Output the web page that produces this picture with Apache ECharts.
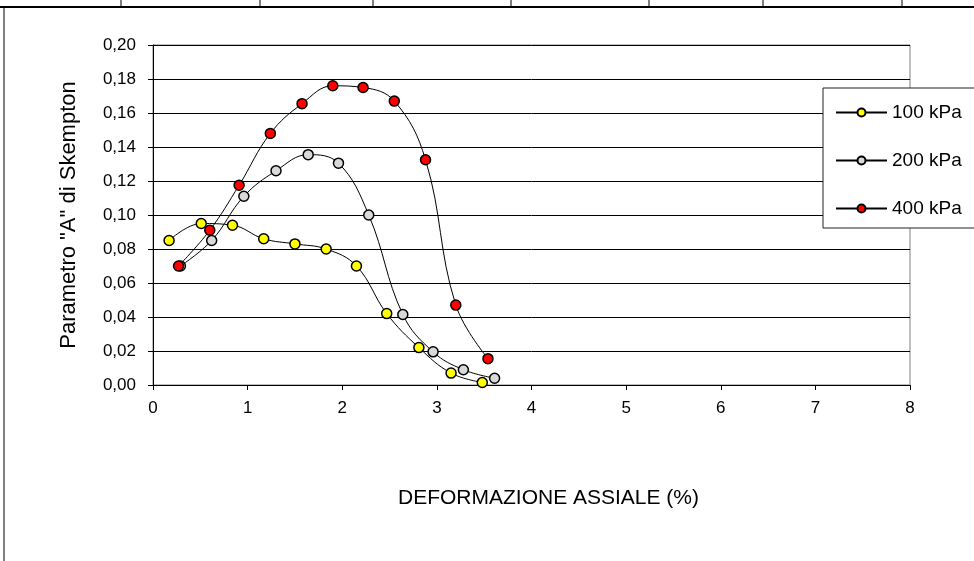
<!DOCTYPE html>
<html>
<head>
<meta charset="utf-8">
<script src="https://cdn.jsdelivr.net/npm/echarts@6/dist/echarts.min.js"></script>
<style>
html,body{margin:0;padding:0;background:#fff;}
#c{width:974px;height:561px;}
</style>
</head>
<body>
<div id="c"></div>
<script>
// Data
const seriesNames = ['100 kPa', '200 kPa', '400 kPa'];
const x100 = [0.17, 0.51, 0.84, 1.17, 1.50, 1.83, 2.15, 2.47, 2.81, 3.15, 3.48];
const y100 = [0.085, 0.095, 0.094, 0.086, 0.083, 0.080, 0.070, 0.042, 0.022, 0.007, 0.0015];
const x200 = [0.29, 0.62, 0.96, 1.30, 1.64, 1.96, 2.28, 2.64, 2.96, 3.28, 3.61];
const y200 = [0.070, 0.085, 0.111, 0.126, 0.1355, 0.1305, 0.100, 0.0415, 0.0195, 0.009, 0.004];
const x400 = [0.27, 0.60, 0.91, 1.24, 1.575, 1.90, 2.22, 2.55, 2.88, 3.20, 3.54];
const y400 = [0.070, 0.091, 0.1175, 0.148, 0.1655, 0.176, 0.175, 0.167, 0.1325, 0.047, 0.0155];
const xTickValues = [0, 1, 2, 3, 4, 5, 6, 7, 8];
const yTickValues = [0, 0.02, 0.04, 0.06, 0.08, 0.10, 0.12, 0.14, 0.16, 0.18, 0.20];
const markerColors = ['#FFFF00', '#D9D9D9', '#FF0000'];
const xTitle = 'DEFORMAZIONE ASSIALE (%)';
const yTitle = 'Parametro "A" di Skempton';

function pairs(xs, ys) { return xs.map((x, i) => [x, ys[i]]); }
const dataSets = [pairs(x100, y100), pairs(x200, y200), pairs(x400, y400)];

const FONT = '"Liberation Sans", Arial, sans-serif';
const chart = echarts.init(document.getElementById('c'), null, {renderer: 'canvas'});

const option = {
  animation: false,
  backgroundColor: '#fff',
  textStyle: {fontFamily: FONT, color: '#000'},
  grid: {left: 153, right: 64, top: 45, bottom: 176, show: true, borderColor: '#7f7f7f', borderWidth: 1, containLabel: false},
  legend: {
    orient: 'vertical',
    left: 823, top: 88,
    padding: [15, 40, 10, 12],
    itemWidth: 51, itemHeight: 10, itemGap: 29,
    backgroundColor: '#fff', borderColor: '#222', borderWidth: 1,
    textStyle: {fontFamily: FONT, fontSize: 19, color: '#000', padding: [0, 0, 0, 0]},
    data: seriesNames
  },
  xAxis: {
    type: 'value', min: xTickValues[0], max: xTickValues[xTickValues.length - 1], interval: 1,
    name: xTitle, nameLocation: 'middle', nameGap: 103,
    nameTextStyle: {fontFamily: FONT, fontSize: 21, color: '#000', padding: [0, 0, 0, 34]},
    axisLine: {show: true, onZero: false, lineStyle: {color: '#000', width: 1}},
    axisTick: {show: true, inside: false, length: 5, lineStyle: {color: '#000'}},
    axisLabel: {fontFamily: FONT, fontSize: 17, color: '#000', margin: 15},
    splitLine: {show: false}
  },
  yAxis: {
    type: 'value', min: yTickValues[0], max: yTickValues[yTickValues.length - 1], interval: 0.02,
    name: yTitle, nameLocation: 'middle', nameGap: 73, nameRotate: 90,
    nameTextStyle: {fontFamily: FONT, fontSize: 22, color: '#000'},
    axisLine: {show: true, onZero: false, lineStyle: {color: '#000', width: 1}},
    axisTick: {show: true, inside: false, length: 5, lineStyle: {color: '#000'}},
    axisLabel: {fontFamily: FONT, fontSize: 17, color: '#000', margin: 17,
      formatter: v => v.toFixed(2).replace('.', ',')},
    splitLine: {show: true, lineStyle: {color: '#000', width: 1}}
  },
  series: dataSets.map((d, i) => ({
    name: seriesNames[i],
    type: 'line',
    data: d,
    smooth: 0.4,
    symbol: 'circle',
    symbolSize: 10,
    showAllSymbol: true,
    lineStyle: {color: '#000', width: 1},
    itemStyle: {color: markerColors[i], borderColor: '#000', borderWidth: 1.5},
    z: 2 + i
  })),
  graphic: [
    {type: 'line', shape: {x1: 0, y1: 7, x2: 974, y2: 7}, style: {stroke: '#000', lineWidth: 2}},
    {type: 'line', shape: {x1: 4, y1: 8, x2: 4, y2: 561}, style: {stroke: '#555', lineWidth: 1.5}},
    {type: 'line', shape: {x1: 121, y1: 0, x2: 121, y2: 7}, style: {stroke: '#000', lineWidth: 1}},
    {type: 'line', shape: {x1: 260, y1: 0, x2: 260, y2: 7}, style: {stroke: '#000', lineWidth: 1}},
    {type: 'line', shape: {x1: 373, y1: 0, x2: 373, y2: 7}, style: {stroke: '#000', lineWidth: 1}},
    {type: 'line', shape: {x1: 511, y1: 0, x2: 511, y2: 7}, style: {stroke: '#000', lineWidth: 1}},
    {type: 'line', shape: {x1: 649, y1: 0, x2: 649, y2: 7}, style: {stroke: '#000', lineWidth: 1}},
    {type: 'line', shape: {x1: 763, y1: 0, x2: 763, y2: 7}, style: {stroke: '#000', lineWidth: 1}},
    {type: 'line', shape: {x1: 902, y1: 0, x2: 902, y2: 7}, style: {stroke: '#000', lineWidth: 1}}
  ]
};
chart.setOption(option);
</script>
</body>
</html>
